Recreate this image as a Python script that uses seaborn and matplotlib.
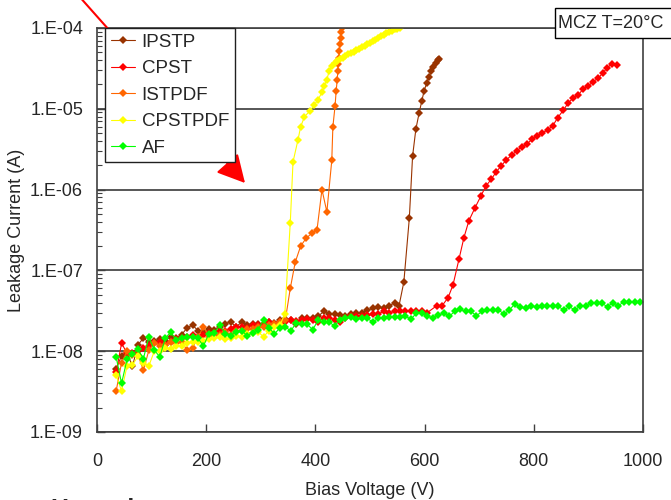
import matplotlib
matplotlib.use("Agg")
import matplotlib.pyplot as plt
from matplotlib.patches import Rectangle
from matplotlib.ticker import FixedLocator, FuncFormatter, LogLocator, NullFormatter
import numpy as np
import seaborn as sns

# ==============================
# DATA (leakage current in units of 1e-8 A)
# ==============================

ipstp_v = [35, 45, 55, 65, 75, 85, 95, 105, 115, 125, 135, 145, 155, 165, 175, 185, 195,
           205, 215, 225, 235, 245, 255, 265, 275, 285, 295, 305, 315, 325, 335, 345, 355,
           365, 375, 385, 395, 405, 415, 425, 435, 445, 455, 465, 475, 485, 495, 505, 515,
           525, 535, 545, 553, 562, 572, 578, 584, 590, 595, 599, 604, 608, 612, 615, 620,
           624, 627]
ipstp_i = [0.6, 0.88, 0.95, 0.65, 1.2, 1.45, 1.3, 1.35, 1.4, 1.35, 1.5, 1.45, 1.6, 1.95, 2.1,
           1.8, 1.75, 1.9, 1.85, 2.0, 2.2, 2.3, 2.0, 2.3, 2.1, 2.2, 2.2, 2.15, 2.3, 2.25, 2.4,
           2.5, 2.45, 2.2, 2.6, 2.6, 2.55, 2.7, 3.1, 2.9, 2.9, 2.8, 2.75, 2.9, 3.0, 3.0, 3.2,
           3.4, 3.5, 3.4, 3.6, 4.0, 3.6, 7.2, 44, 260, 560, 890, 1260, 1660, 2100, 2500, 2900,
           3300, 3700, 4000, 4150]

cpst_v = [35, 45, 55, 65, 75, 85, 95, 105, 115, 125, 135, 145, 155, 165, 175, 185, 195,
          205, 215, 225, 235, 245, 255, 265, 275, 285, 295, 305, 315, 325, 335, 345, 355,
          365, 375, 385, 395, 405, 415, 425, 435, 445, 455, 465, 475, 485, 495, 505, 515,
          525, 535, 545, 555, 565, 575, 585, 595, 605, 622, 632, 643, 652, 663, 672, 681,
          692, 703, 712, 722, 731, 740, 749, 760, 769, 778, 788, 797, 806, 815, 826, 835,
          844, 854, 863, 872, 881, 890, 899, 908, 918, 927, 934, 943, 952]
cpst_i = [0.55, 1.25, 0.95, 0.95, 1.0, 1.1, 1.15, 1.25, 1.3, 1.2, 1.3, 1.4, 1.45, 1.5, 1.6,
          1.5, 1.6, 1.7, 1.7, 1.8, 1.8, 1.9, 2.0, 2.0, 1.95, 2.1, 2.1, 2.2, 2.3, 2.2, 2.3,
          2.3, 2.4, 2.35, 2.4, 2.5, 2.45, 2.3, 2.6, 2.6, 2.45, 2.3, 2.6, 2.7, 2.7, 2.75, 2.8,
          2.85, 2.9, 3.1, 3.0, 3.1, 3.1, 3.1, 3.15, 3.15, 3.1, 3.0, 3.65, 3.65, 4.6, 6.6,
          13.8, 25.4, 41, 59, 83, 110, 134, 165, 196, 230, 270, 300, 340, 370, 420, 460, 500,
          550, 620, 780, 960, 1180, 1360, 1470, 1750, 1900, 2150, 2400, 2800, 3200, 3600, 3500]

istpdf_v = [35, 45, 55, 65, 75, 85, 95, 105, 115, 125, 135, 145, 155, 165, 175, 185, 195,
            205, 215, 225, 235, 245, 255, 265, 275, 285, 295, 305, 315, 325, 335, 345, 354,
            363, 373, 383, 394, 403, 412, 421, 430, 432, 436, 438, 440, 441, 442, 443, 444,
            445, 446, 447, 448]
istpdf_i = [0.32, 0.72, 1.0, 0.9, 0.9, 0.58, 1.03, 1.27, 1.15, 1.2, 1.3, 1.25, 1.3, 1.03, 1.1,
            1.5, 2.0, 1.5, 1.55, 1.6, 1.75, 1.6, 1.8, 1.8, 1.9, 1.9, 2.0, 2.0, 2.1, 2.2, 2.3,
            2.45, 6.0, 12.6, 20, 25, 29, 32, 100, 53, 230, 600, 1080, 1660, 2300, 2900, 3600,
            4300, 5200, 6300, 7600, 9000, 10000]

cpstpdf_v = [35, 45, 55, 65, 75, 85, 95, 105, 115, 125, 135, 145, 155, 165, 175, 185, 195,
             205, 215, 225, 235, 245, 255, 265, 275, 285, 295, 305, 315, 325, 335, 344, 354,
             359, 368, 373, 380, 390, 397, 405, 412, 416, 421, 425, 430, 435, 440, 445, 450,
             455, 460, 465, 470, 475, 480, 485, 490, 495, 500, 505, 510, 515, 520, 525, 530,
             535, 540, 545, 550, 555]
cpstpdf_i = [0.51, 0.32, 0.66, 0.68, 0.86, 0.72, 0.66, 1.0, 1.0, 1.1, 1.05, 1.15, 1.15, 1.25,
             1.3, 1.3, 1.35, 1.4, 1.45, 1.5, 1.4, 1.45, 1.55, 1.5, 1.65, 1.7, 1.75, 1.5, 1.8,
             2.0, 2.1, 2.9, 39, 220, 410, 600, 800, 940, 1100, 1300, 1600, 1900, 2300, 2900,
             3400, 3700, 3900, 4100, 4300, 4500, 4700, 4900, 5100, 5300, 5550, 5800, 6050,
             6300, 6600, 6900, 7200, 7500, 7900, 8200, 8600, 8900, 9300, 9600, 9800, 10000]

af_v = [35, 45, 55, 65, 75, 85, 95, 105, 115, 125, 135, 145, 155, 165, 175, 185, 195, 205,
        215, 225, 235, 245, 255, 265, 275, 285, 295, 305, 315, 325, 335, 345, 355, 365, 375,
        385, 395, 405, 415, 425, 435, 445, 455, 465, 475, 485, 495, 505, 515, 525, 535, 545,
        555, 565, 575, 585, 595, 605, 615, 625, 635, 645, 655, 665, 675, 685, 695, 705, 715,
        725, 735, 745, 755, 765, 775, 785, 795, 805, 815, 825, 835, 845, 855, 865, 875, 885,
        895, 905, 915, 925, 935, 945, 955, 965, 975, 985, 995]
af_i = [0.85, 0.40, 0.79, 0.92, 1.05, 0.81, 1.5, 1.03, 0.85, 1.44, 1.73, 1.38, 1.45, 1.5, 1.5,
        1.44, 1.16, 1.65, 1.7, 2.1, 1.65, 1.55, 1.75, 1.8, 1.55, 1.7, 1.85, 2.43, 1.95, 1.63,
        1.95, 2.0, 1.78, 2.25, 2.2, 2.15, 1.85, 2.4, 2.3, 2.3, 2.05, 2.45, 2.55, 2.65, 2.5,
        2.55, 2.55, 2.3, 2.55, 2.55, 2.65, 2.65, 2.65, 2.7, 2.5, 2.95, 2.95, 2.75, 2.55, 2.8,
        2.95, 2.7, 3.1, 3.3, 3.1, 3.1, 2.75, 3.1, 3.25, 3.25, 3.25, 2.9, 3.2, 3.85, 3.5, 3.4,
        3.65, 3.5, 3.6, 3.6, 3.6, 3.6, 3.2, 3.6, 3.2, 3.65, 3.65, 4.0, 3.9, 3.9, 3.55, 4.0,
        3.65, 4.1, 4.05, 4.05, 4.1]

series = [
    ("IPSTP", ipstp_v, ipstp_i, "#993300"),
    ("CPST", cpst_v, cpst_i, "#FF0000"),
    ("ISTPDF", istpdf_v, istpdf_i, "#FF6600"),
    ("CPSTPDF", cpstpdf_v, cpstpdf_i, "#FFFF00"),
    ("AF", af_v, af_i, "#00FF00"),
]

y_ticks = [1e-9, 1e-8, 1e-7, 1e-6, 1e-5, 1e-4]
x_ticks = [0, 200, 400, 600, 800, 1000]

# ==============================
# PLOT
# ==============================

sns.set_style("white")
plt.rcParams['font.family'] = ['Liberation Sans', 'DejaVu Sans']

fig = plt.figure(figsize=(6.71, 5), dpi=100, facecolor="white")
ax = fig.add_axes([97/671, 68/500, 546/671, 404/500])

for name, v, i, col in series:
    sns.lineplot(x=v, y=np.array(i) * 1e-8, ax=ax, color=col, label=name,
                 estimator=None, sort=False, linewidth=0.8,
                 marker="D", markersize=4.2, markeredgewidth=0)

ax.set_yscale("log")
ax.set_xlim(0, 1000)
ax.set_ylim(1e-9, 1e-4)

ax.yaxis.set_major_locator(FixedLocator(y_ticks))
ax.yaxis.set_major_formatter(FuncFormatter(lambda val, pos: "1.E-%02d" % round(-np.log10(val))))
ax.yaxis.set_minor_locator(LogLocator(base=10, subs=np.arange(2, 10)))
ax.yaxis.set_minor_formatter(NullFormatter())
ax.xaxis.set_major_locator(FixedLocator(x_ticks))

ax.tick_params(axis="y", which="major", direction="in", length=6, width=1, pad=10,
               labelsize=13, left=True, color="#404040")
ax.tick_params(axis="y", which="minor", direction="in", length=3.5, width=0.8,
               left=True, color="#404040")
ax.tick_params(axis="x", which="major", direction="in", length=6, width=1, pad=15,
               labelsize=13, bottom=True, color="#404040")

ax.grid(True, axis="y", which="major", color="#3a3a3a", linewidth=1.2)
ax.grid(False, axis="x")
for sp in ax.spines.values():
    sp.set_color("#404040")
    sp.set_linewidth(1.2)

ax.set_xlabel("Bias Voltage (V)", fontsize=13, labelpad=9)
ax.set_ylabel("Leakage Current (A)", fontsize=13, labelpad=4)

leg = ax.legend(loc="upper left", bbox_to_anchor=(0.0147, 1.0), borderaxespad=0,
                fontsize=13.5, frameon=True, fancybox=False, framealpha=1,
                edgecolor="#202020", labelspacing=0.5, handlelength=1.3,
                handletextpad=0.35, borderpad=0.3)
leg.get_frame().set_linewidth(1.0)

# label box in the top right corner
fig.add_artist(Rectangle((555/671, (500-38)/500), 130/671, 30/500, transform=fig.transFigure,
                         facecolor="white", edgecolor="black", linewidth=1.0, clip_on=False))
fig.text(558/671, (500-24)/500, "MCZ T=20°C", fontsize=13, va="center", ha="left")

# red pointer arrow
ax.annotate("", xy=(245/671, (500-183)/500), xytext=(78/671, 1.01),
            xycoords="figure fraction", textcoords="figure fraction",
            arrowprops=dict(arrowstyle="-|>,head_length=0.85,head_width=0.45",
                            color="#FF0000", lw=1.5, mutation_scale=20,
                            shrinkA=0, shrinkB=0))

# heading below the chart, cut off by the picture edge as in the source
fig.text(51/671, -0.034, "Heat ul", fontsize=18, fontweight="bold", va="baseline", ha="left")

fig.savefig("out.png", dpi=100, facecolor="white")
plt.close(fig)
